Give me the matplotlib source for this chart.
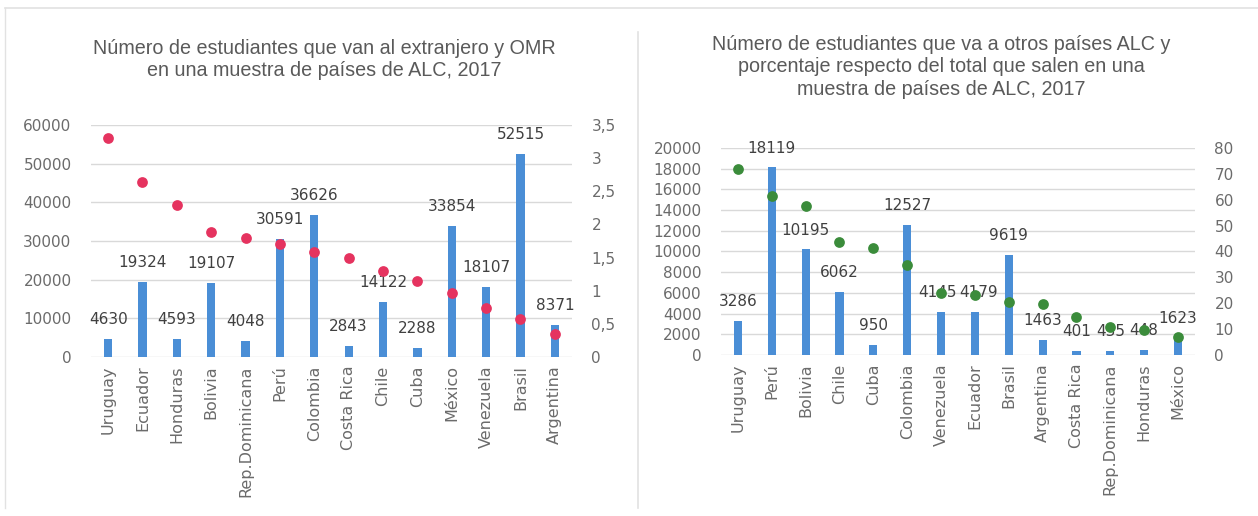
import matplotlib
matplotlib.use("Agg")
import matplotlib.pyplot as plt
from matplotlib.lines import Line2D

# Left panel: students abroad and outbound mobility ratio (OMR)
left_countries = ["Uruguay", "Ecuador", "Honduras", "Bolivia", "Rep.Dominicana", "Perú",
                  "Colombia", "Costa Rica", "Chile", "Cuba", "México", "Venezuela",
                  "Brasil", "Argentina"]
left_students = [4630, 19324, 4593, 19107, 4048, 30591, 36626, 2843, 14122, 2288,
                 33854, 18107, 52515, 8371]
left_omr = [3.30, 2.64, 2.30, 1.89, 1.79, 1.71, 1.59, 1.50, 1.29, 1.14, 0.97, 0.74,
            0.58, 0.35]
left_yticks = [0, 10000, 20000, 30000, 40000, 50000, 60000]
left_y2ticks = [0, 0.5, 1, 1.5, 2, 2.5, 3, 3.5]
left_y2labels = ["0", "0,5", "1", "1,5", "2", "2,5", "3", "3,5"]

# Right panel: students going to other LAC countries and share of total
right_countries = ["Uruguay", "Perú", "Bolivia", "Chile", "Cuba", "Colombia", "Venezuela",
                   "Ecuador", "Brasil", "Argentina", "Costa Rica", "Rep.Dominicana",
                   "Honduras", "México"]
right_students = [3286, 18119, 10195, 6062, 950, 12527, 4145, 4179, 9619, 1463, 401,
                  435, 448, 1623]
right_share = [71.8, 61.4, 57.5, 43.6, 41.3, 34.7, 24.1, 23.2, 20.6, 19.8, 14.8, 10.8,
               9.8, 7.0]
right_yticks = list(range(0, 20001, 2000))
right_y2ticks = list(range(0, 81, 10))

left_title = "Número de estudiantes que van al extranjero y OMR\nen una muestra de países de ALC, 2017"
right_title = ("Número de estudiantes que va a otros países ALC y\n"
               "porcentaje respecto del total que salen en una\n"
               "muestra de países de ALC, 2017")

BAR = "#4a8ed6"
GRID = "#d9d9d9"
TICK = "#6b6b6b"
LABEL = "#404040"
TITLE = "#5a5a5a"

plt.rcParams["font.family"] = ["DejaVu Sans"]

fig = plt.figure(figsize=(12.58, 5.16), dpi=100)
fig.patch.set_facecolor("white")


def panel(rect, cats, bars, dots, ylim, yticks, y2lim, y2ticks, y2labels, dot_color,
          nudges=None):
    ax = fig.add_axes(rect)
    x = list(range(len(cats)))
    ax.bar(x, bars, width=0.24, color=BAR, zorder=2)
    ax.set_xlim(-0.5, len(cats) - 0.5)
    ax.set_ylim(*ylim)
    ax.set_yticks(yticks)
    ax.set_yticklabels([str(v) for v in yticks])
    ax.yaxis.grid(True, color=GRID, linewidth=1.0, zorder=0)
    ax.set_axisbelow(True)
    for s in ax.spines.values():
        s.set_visible(False)
    ax.tick_params(axis="y", length=0, colors=TICK, labelsize=11, pad=14)
    ax.tick_params(axis="x", length=0, colors=TICK, labelsize=11.5, pad=6)
    ax.set_xticks(x)
    ax.set_xticklabels(cats, rotation=90)
    nudges = nudges or {}
    for xi, v in zip(x, bars):
        ax.annotate(str(v), (xi, v), xytext=(nudges.get(xi, 0), 14),
                    textcoords="offset points", ha="center", va="center",
                    fontsize=11, color=LABEL, zorder=4)
    ax2 = ax.twinx()
    ax2.set_ylim(*y2lim)
    ax2.set_yticks(y2ticks)
    ax2.set_yticklabels(y2labels)
    for s in ax2.spines.values():
        s.set_visible(False)
    ax2.tick_params(axis="y", length=0, colors=TICK, labelsize=11, pad=14)
    ax2.scatter(x, dots, s=60, color=dot_color, zorder=5, linewidths=0)
    return ax, ax2


panel([0.0723, 0.3081, 0.3824, 0.4497], left_countries, left_students, left_omr,
      (0, 60000), left_yticks, (0, 3.5), left_y2ticks, left_y2labels, "#e5335f")
panel([0.5731, 0.3120, 0.3768, 0.4012], right_countries, right_students, right_share,
      (0, 20000), right_yticks, (0, 80), right_y2ticks, [str(v) for v in right_y2ticks],
      "#3b8c3b", nudges={6: -2.5, 7: 2.5})

fig.text(0.2576, 1 - 60 / 516, left_title, ha="center", va="center", fontsize=14.2,
         color=TITLE, family="Liberation Sans", linespacing=1.2)
fig.text(0.7480, 1 - 67 / 516, right_title, ha="center", va="center", fontsize=14.2,
         color=TITLE, family="Liberation Sans", linespacing=1.25)

# light panel frames
frame = "#e2e2e2"
fig.add_artist(Line2D([5 / 1258, 1.0], [1 - 8 / 516] * 2, color=frame, lw=1.2,
                      transform=fig.transFigure))
fig.add_artist(Line2D([5 / 1258] * 2, [1 - 8 / 516, 1 - 508 / 516], color=frame, lw=1.0,
                      transform=fig.transFigure))
fig.add_artist(Line2D([638 / 1258] * 2, [1 - 32 / 516, 1 - 508 / 516], color=frame,
                      lw=1.2, transform=fig.transFigure))

fig.savefig("out.png", dpi=100, facecolor="white")
